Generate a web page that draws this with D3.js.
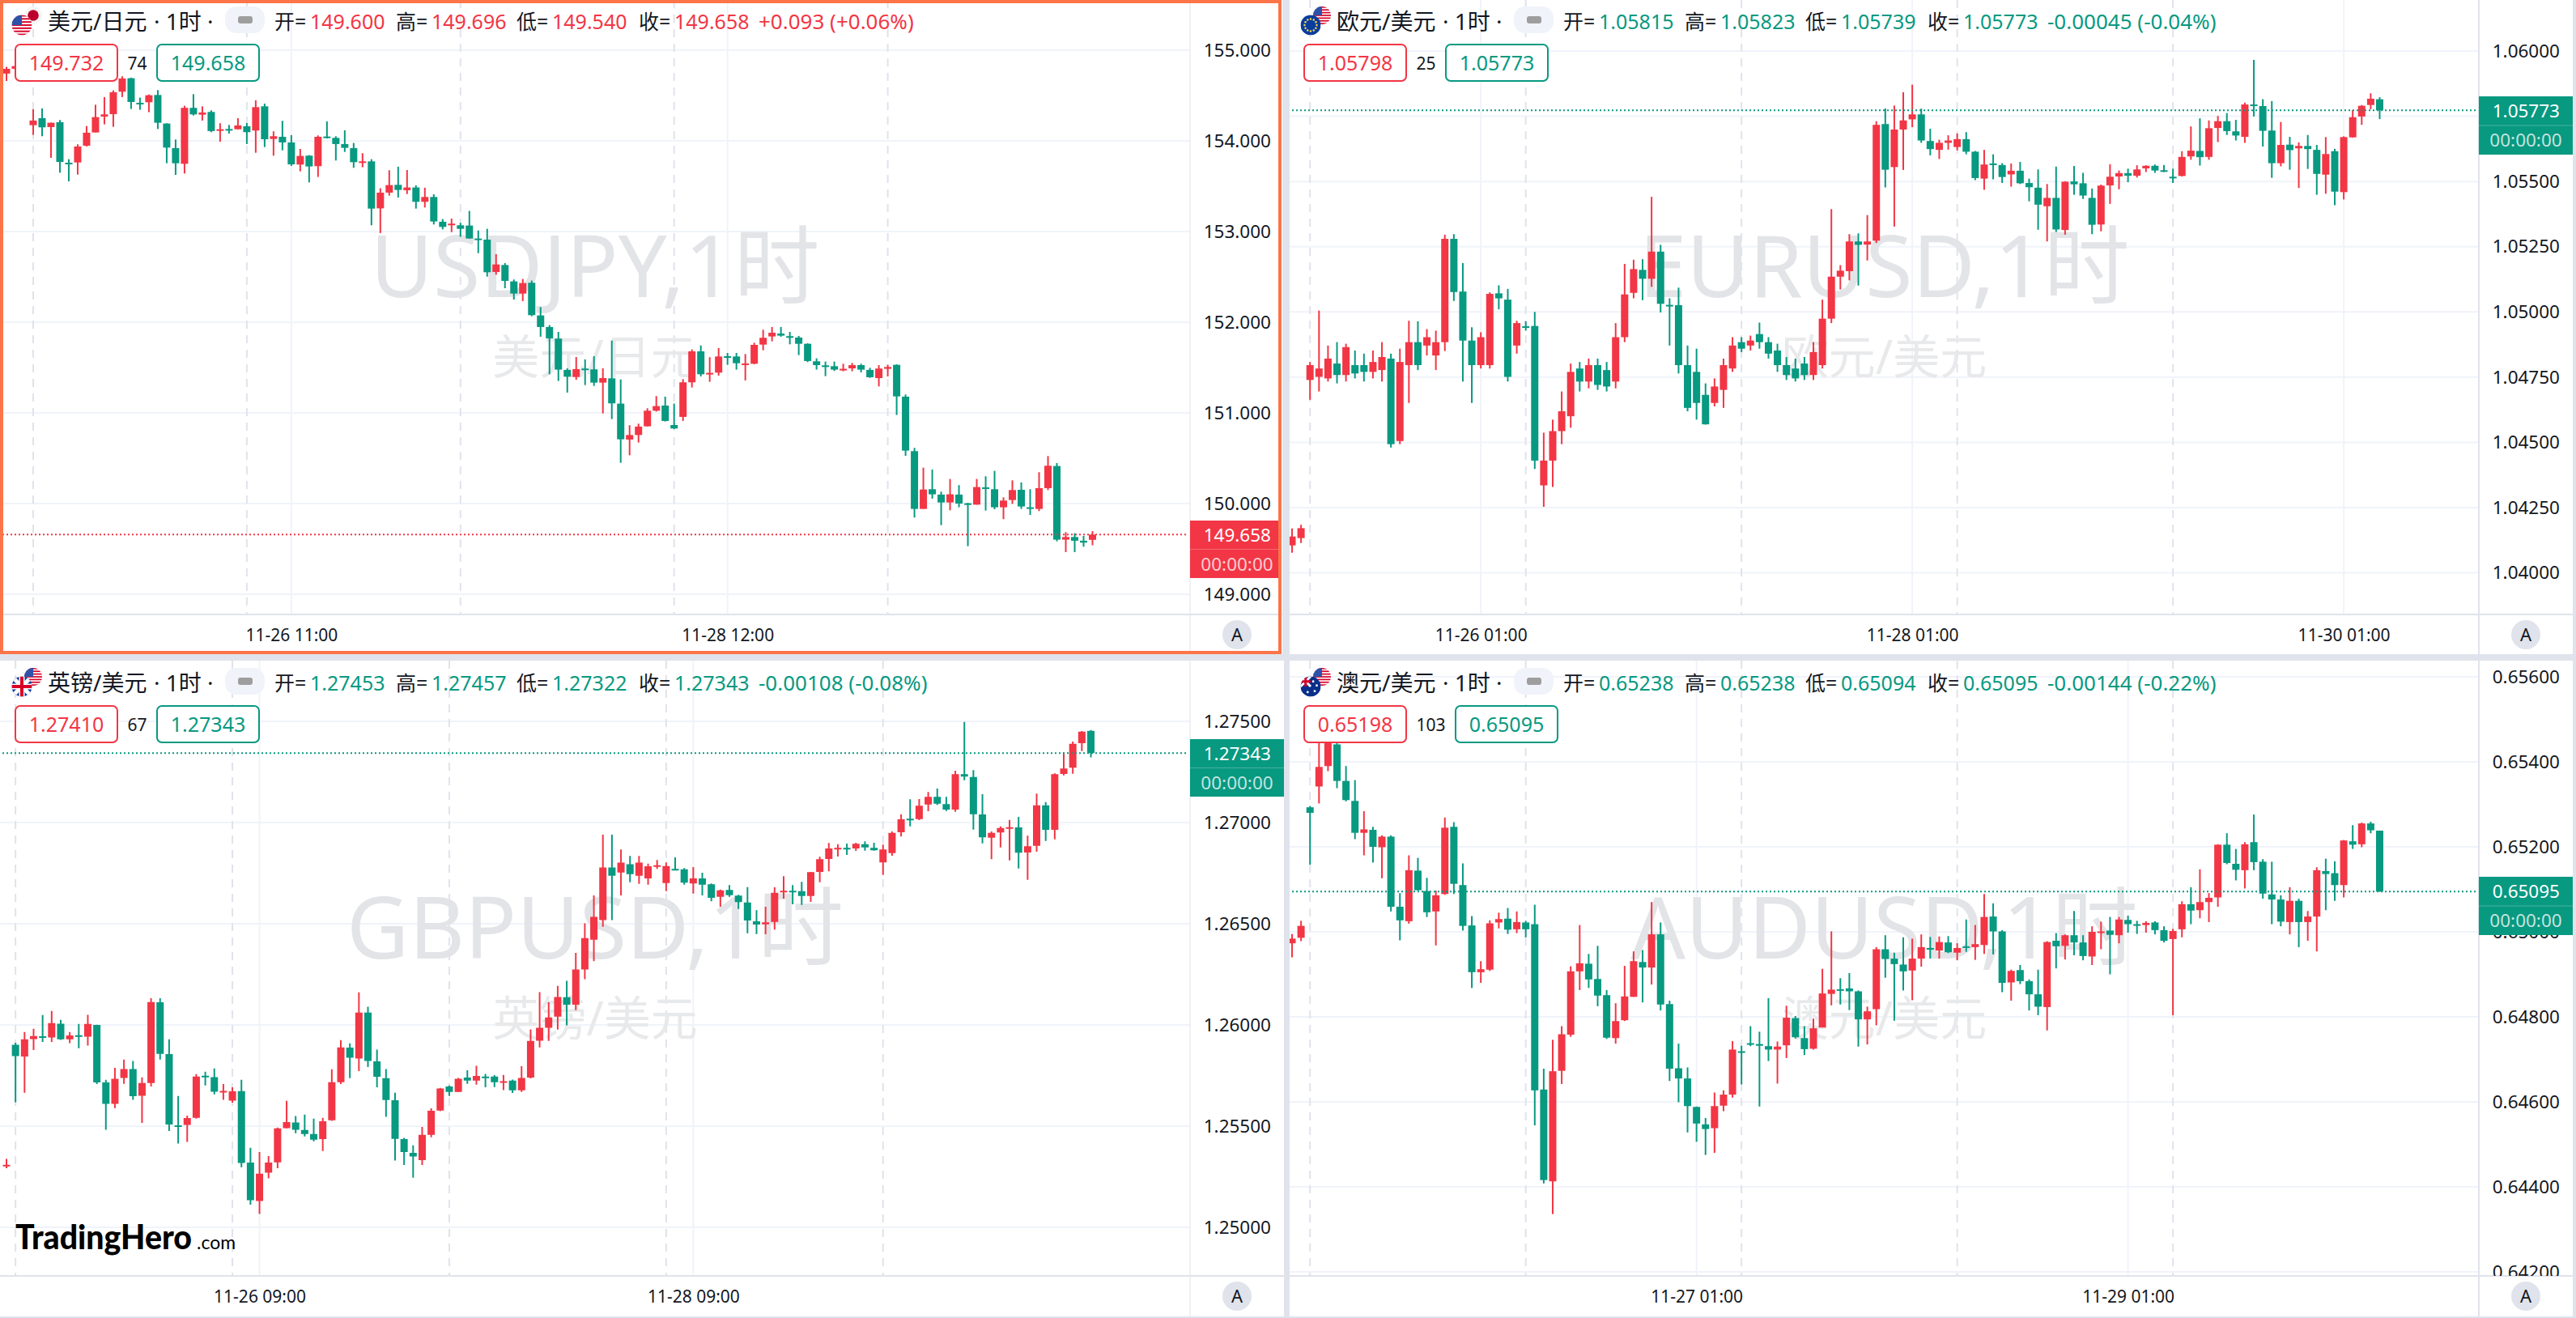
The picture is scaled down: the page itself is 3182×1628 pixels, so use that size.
<!DOCTYPE html>
<html>
<head>
<meta charset="utf-8">
<script src="https://cdn.jsdelivr.net/npm/d3@7"></script>
<style>
  html, body { margin: 0; padding: 0; background: #e0e3eb; overflow: hidden; }
  svg { display: block; }
  text { font-family: "Noto Sans", "Noto Sans CJK SC", sans-serif; }
</style>
</head>
<body>
<script>
// open, high, low, close
const usdjpyBars = [
[154.742,154.816,154.661,154.795],[154.795,154.855,154.774,154.825],[154.81,154.944,154.75,154.914],[154.173,154.349,154.066,154.224],
[154.25,154.358,154.051,154.149],[154.152,154.2,153.813,154.2],[154.206,154.23,153.649,153.768],[153.759,153.798,153.554,153.753],
[153.762,153.962,153.628,153.938],[153.947,154.164,153.938,154.09],[154.093,154.399,154.093,154.262],[154.268,154.483,154.182,154.292],
[154.295,154.557,154.155,154.536],[154.542,154.712,154.483,154.688],[154.691,154.697,154.352,154.429],[154.42,154.477,154.343,154.411],
[154.426,154.512,154.316,154.503],[154.506,154.56,154.131,154.2],[154.191,154.194,153.753,153.926],[153.92,154.015,153.625,153.753],
[153.747,154.387,153.64,154.364],[154.364,154.515,154.28,154.292],[154.289,154.381,154.224,154.313],[154.319,154.337,154.096,154.108],
[154.114,154.194,153.991,154.128],[154.131,154.176,154.081,154.122],[154.128,154.25,154.128,154.17],[154.161,154.197,153.965,154.096],
[154.114,154.447,153.869,154.372],[154.381,154.411,153.932,154.018],[154.021,154.105,153.837,154.051],[154.045,154.221,153.896,153.983],
[153.983,154.063,153.724,153.741],[153.739,153.911,153.664,153.834],[153.837,153.843,153.542,153.718],[153.721,154.06,153.602,154.045],
[154.048,154.215,154.027,154.036],[154.033,154.051,153.783,153.965],[153.965,154.116,153.878,153.923],[153.92,153.977,153.703,153.765],
[153.762,153.864,153.709,153.774],[153.774,153.798,153.069,153.253],[153.256,153.477,152.983,153.429],[153.429,153.676,153.396,153.512],
[153.515,153.715,153.375,153.459],[153.456,153.679,153.414,153.486],[153.486,153.509,153.253,153.328],[153.328,153.483,153.265,153.381],
[153.381,153.411,153.078,153.111],[153.108,153.137,153.024,153.051],[153.069,153.143,152.994,153.087],[153.069,153.096,152.941,153.03],
[153.066,153.227,152.923,152.923],[152.923,153.012,152.762,152.914],[152.911,153.03,152.503,152.551],[152.554,152.75,152.524,152.637],
[152.631,152.652,152.375,152.456],[152.45,152.471,152.25,152.316],[152.316,152.477,152.233,152.432],[152.435,152.459,152.066,152.078],
[152.075,152.167,151.84,151.947],[151.947,151.968,151.426,151.822],[151.819,151.893,151.352,151.477],[151.474,151.491,151.224,151.399],
[151.396,151.616,151.364,151.483],[151.489,151.59,151.307,151.48],[151.48,151.625,151.298,151.334],[151.334,151.491,150.994,151.384],
[151.381,151.798,150.932,151.105],[151.102,151.369,150.45,150.709],[150.706,150.864,150.533,150.756],[150.756,150.881,150.673,150.849],
[150.852,151.051,150.852,151.024],[151.024,151.185,151.015,151.075],[151.081,151.179,150.905,150.911],[150.866,151.102,150.822,150.828],
[150.956,151.372,150.911,151.337],[151.337,151.7,151.28,151.679],[151.679,151.744,151.402,151.426],[151.426,151.614,151.343,151.441],
[151.444,151.715,151.411,151.622],[151.625,151.661,151.53,151.614],[151.622,151.661,151.477,151.548],[151.533,151.649,151.358,151.545],
[151.542,151.774,151.536,151.75],[151.753,151.917,151.691,151.828],[151.843,151.947,151.789,151.884],[151.875,151.947,151.84,151.852],
[151.846,151.893,151.756,151.837],[151.831,151.849,151.637,151.762],[151.762,151.768,151.56,151.572],[151.569,151.602,151.477,151.527],
[151.524,151.566,151.405,151.515],[151.515,151.566,151.462,151.477],[151.474,151.542,151.459,151.486],[151.491,151.551,151.459,151.527],
[151.527,151.542,151.447,151.477],[151.474,151.497,151.387,151.393],[151.384,151.527,151.292,151.489],[151.486,151.53,151.402,151.506],
[151.53,151.536,150.977,151.182],[151.179,151.203,150.527,150.584],[150.578,150.614,149.846,149.941],[149.941,150.396,149.941,150.155],
[150.158,150.375,150.054,150.102],[150.099,150.131,149.762,150.012],[150.012,150.271,149.926,150.102],[150.099,150.203,149.959,150.0],
[150.003,150.009,149.53,149.991],[149.988,150.271,149.988,150.182],[150.179,150.301,149.923,150.17],[150.158,150.361,149.937,149.959],
[149.959,150.069,149.828,150.033],[150.039,150.256,149.997,150.149],[150.152,150.233,149.941,149.968],[149.959,150.158,149.875,149.944],
[149.941,150.346,149.917,150.17],[150.17,150.524,150.149,150.417],[150.414,150.447,149.584,149.602],[149.602,149.685,149.465,149.631],
[149.631,149.673,149.465,149.59],[149.59,149.643,149.524,149.569],[149.6,149.696,149.54,149.658]
];

// the three dollar pairs are kept in points (1/100000)
const eurusdPoints = [
[104105,104170,104077,104139],[104133,104184,104114,104171],[104739,104808,104663,104796],[104751,105005,104695,104783],
[104745,104871,104733,104821],[104802,104884,104726,104758],[104758,104878,104733,104865],[104796,104852,104745,104764],
[104796,104840,104733,104770],[104770,104852,104745,104808],[104777,104884,104733,104827],[104821,104840,104480,104493],
[104505,104859,104493,104808],[104796,104966,104651,104884],[104884,104964,104777,104796],[104871,104934,104833,104903],
[104833,104928,104777,104884],[104884,105296,104850,105280],[105280,105298,105042,105076],[105078,105187,104733,104890],
[104890,104941,104651,104796],[104796,104922,104783,104903],[104796,105075,104783,105069],[105071,105102,105010,105052],
[105047,105088,104733,104751],[104871,104966,104840,104957],[104945,104964,104928,104941],[104946,105000,104398,104430],
[104335,104537,104253,104430],[104430,104587,104329,104543],[104543,104695,104493,104619],[104600,104802,104556,104770],
[104783,104808,104695,104733],[104733,104821,104707,104796],[104796,104821,104701,104720],[104777,104808,104695,104714],
[104733,104957,104707,104903],[104903,105184,104884,105067],[105073,105200,105052,105164],[105161,105202,105045,105127],
[105127,105441,105096,105231],[105231,105257,104998,105031],[105027,105052,104871,105025],[105026,105093,104764,104796],
[104796,104871,104619,104632],[104770,104859,104587,104651],[104682,104726,104568,104569],[104651,104745,104638,104714],
[104701,104821,104632,104796],[104783,104903,104770,104871],[104884,104903,104846,104859],[104871,104909,104852,104890],
[104915,104959,104859,104884],[104884,104903,104821,104840],[104852,104878,104770,104796],[104796,104827,104739,104758],
[104783,104821,104733,104745],[104802,104827,104739,104758],[104758,104884,104739,104846],[104796,105047,104783,104974],
[104974,105394,104957,105135],[105135,105179,105086,105158],[105156,105298,105121,105270],[105270,105301,105101,105257],
[105258,105371,105197,105270],[105273,105731,105264,105717],[105720,105780,105477,105545],[105555,105791,105327,105699],
[105699,105842,105544,105734],[105738,105871,105708,105757],[105757,105779,105648,105657],[105655,105702,105600,105624],
[105621,105660,105586,105648],[105648,105677,105622,105657],[105632,105684,105619,105662],[105662,105689,105604,105614],
[105614,105617,105505,105513],[105511,105621,105468,105565],[105569,105604,105508,105565],[105563,105570,105494,105517],
[105527,105569,105480,105541],[105541,105575,105490,105493],[105494,105511,105424,105478],[105476,105546,105315,105411],
[105405,105490,105270,105437],[105437,105557,105306,105316],[105314,105501,105296,105499],[105500,105559,105449,105489],
[105493,105533,105433,105446],[105437,105473,105298,105334],[105335,105488,105309,105484],[105485,105566,105414,105518],
[105519,105542,105470,105532],[105532,105549,105497,105522],[105522,105562,105515,105546],[105550,105562,105536,105560],
[105560,105565,105533,105542],[105543,105563,105536,105540],[105518,105549,105494,105515],[105521,105616,105519,105594],
[105596,105711,105583,105618],[105617,105742,105561,105593],[105594,105734,105583,105704],[105705,105751,105651,105731],
[105731,105762,105678,105693],[105692,105736,105657,105676],[105671,105802,105648,105795],[105795,105966,105749,105790],
[105789,105815,105634,105694],[105695,105808,105514,105570],[105570,105728,105558,105640],[105641,105671,105545,105620],
[105627,105650,105475,105636],[105636,105678,105548,105624],[105621,105640,105449,105529],[105526,105670,105453,105605],
[105616,105625,105409,105461],[105459,105673,105431,105670],[105669,105774,105668,105746],[105749,105793,105717,105790],
[105793,105838,105777,105817],[105815,105823,105739,105773]
];

const gbpusdPoints = [
[125302,125338,125292,125309],[125902,125912,125618,125846],[125844,125965,125665,125929],[125930,125981,125876,125945],
[125944,126049,125916,125940],[125938,126069,125916,126009],[126006,126025,125926,125929],[125929,125965,125910,125948],
[125949,126005,125885,125944],[125942,126050,125898,126005],[126000,126001,125708,125716],[125716,125729,125482,125610],
[125610,125788,125589,125734],[125738,125829,125709,125782],[125782,125822,125630,125648],[125650,125741,125516,125713],
[125713,126132,125696,126113],[126112,126132,125829,125857],[125856,125929,125476,125508],[125504,125649,125414,125498],
[125506,125552,125422,125540],[125541,125757,125537,125745],[125749,125769,125701,125744],[125742,125785,125657,125670],
[125669,125708,125630,125674],[125626,125692,125616,125672],[125673,125729,125297,125318],[125320,125393,125112,125134],
[125130,125372,125066,125265],[125270,125352,125242,125320],[125321,125493,125292,125489],[125490,125625,125489,125520],
[125518,125550,125465,125482],[125481,125557,125449,125461],[125461,125537,125425,125433],[125436,125541,125377,125524],
[125529,125781,125526,125717],[125717,125925,125708,125889],[125888,125909,125737,125838],[125834,126161,125772,126061],
[126061,126090,125792,125822],[125820,125878,125692,125744],[125737,125782,125546,125629],[125628,125665,125330,125437],
[125436,125442,125308,125372],[125368,125405,125245,125350],[125332,125496,125308,125457],[125457,125588,125445,125576],
[125577,125689,125574,125686],[125696,125701,125649,125669],[125669,125738,125668,125734],[125740,125776,125709,125725],
[125725,125798,125705,125748],[125745,125758,125692,125742],[125745,125752,125693,125717],[125716,125753,125678,125722],
[125725,125730,125664,125677],[125677,125796,125669,125738],[125740,125978,125736,125921],[125922,126162,125889,125986],
[125986,126112,125921,126037],[126041,126193,125977,126138],[126137,126218,125998,126100],[126100,126356,126073,126274],
[126274,126502,126226,126429],[126421,126640,126315,126534],[126518,126940,126485,126778],[126778,126940,126518,126737],
[126753,126867,126640,126802],[126794,126835,126705,126745],[126737,126835,126697,126802],[126724,126797,126693,126784],
[126785,126815,126771,126789],[126701,126803,126661,126785],[126771,126828,126764,126765],[126769,126775,126693,126703],
[126699,126780,126649,126724],[126724,126752,126640,126693],[126695,126699,126611,126628],[126633,126669,126584,126665],
[126667,126691,126633,126641],[126639,126643,126573,126607],[126605,126681,126453,126516],[126512,126567,126449,126496],
[126497,126584,126448,126507],[126509,126680,126471,126653],[126657,126735,126624,126663],[126663,126691,126596,126659],
[126661,126707,126593,126637],[126637,126756,126608,126755],[126756,126831,126705,126819],[126820,126899,126759,126872],
[126869,126893,126832,126875],[126875,126896,126840,126871],[126872,126900,126860,126895],[126893,126907,126861,126877],
[126875,126900,126861,126863],[126803,126891,126741,126867],[126849,126956,126836,126949],[126952,127041,126931,127016],
[127019,127115,126981,127013],[127017,127116,127012,127083],[127089,127151,127056,127127],[127127,127168,127087,127093],
[127091,127127,127057,127064],[127064,127256,127053,127239],[127239,127497,127209,127227],[127225,127259,126965,127041],
[127040,127140,126897,126927],[126925,126956,126819,126949],[126951,126981,126877,126973],[126975,127013,126813,126977],
[126976,127028,126773,126851],[126852,126935,126717,126883],[126885,127143,126856,127085],[127085,127101,126909,126964],
[126964,127243,126917,127239],[127240,127347,127233,127267],[127271,127400,127241,127389],[127392,127452,127353,127449],
[127453,127457,127322,127343]
];

const audusdPoints = [
[64973,64995,64940,64984],[64986,65026,64978,65014],[65293,65296,65158,65280],[65342,65478,65302,65388],
[65390,65478,65378,65466],[65441,65459,65338,65355],[65355,65390,65307,65310],[65308,65357,65218,65233],
[65233,65284,65180,65241],[65240,65247,65163,65200],[65199,65227,65126,65224],[65224,65227,65048,65059],
[65059,65091,64980,65027],[65025,65180,65019,65145],[65144,65174,65097,65098],[65096,65127,65035,65046],
[65048,65097,64968,65086],[65089,65269,65087,65245],[65247,65258,65089,65113],[65110,65161,65003,65014],
[65015,65037,64868,64905],[64905,64931,64880,64912],[64911,65027,64908,65020],[65022,65045,65008,65030],
[65031,65056,64995,65005],[65006,65048,64997,65023],[65022,65026,64987,65006],[65018,65064,64545,64627],
[64629,64678,64408,64416],[64413,64746,64336,64672],[64673,64778,64642,64759],[64758,64919,64753,64907],
[64907,65016,64863,64926],[64925,64948,64868,64888],[64889,64967,64825,64850],[64851,64863,64748,64751],
[64750,64832,64737,64790],[64792,64920,64790,64848],[64847,64954,64847,64931],[64929,64957,64834,64916],
[64916,65070,64876,64994],[64994,65022,64815,64829],[64830,64838,64649,64678],[64679,64737,64599,64655],
[64655,64681,64528,64590],[64588,64589,64506,64549],[64547,64562,64475,64536],[64538,64622,64480,64590],
[64591,64627,64578,64617],[64617,64743,64610,64723],[64719,64732,64641,64717],[64738,64778,64731,64736],
[64736,64765,64589,64732],[64731,64844,64696,64723],[64723,64742,64643,64730],[64733,64826,64703,64798],
[64797,64802,64749,64752],[64750,64778,64710,64724],[64725,64796,64723,64773],[64775,64913,64775,64855],
[64854,65001,64827,64864],[64865,64891,64829,64863],[64867,64903,64816,64860],[64860,64862,64730,64794],
[64794,64824,64735,64813],[64818,64964,64780,64959],[64959,64992,64892,64936],[64937,64951,64791,64924],
[64923,64987,64862,64907],[64909,64984,64839,64937],[64937,64994,64918,64964],[64962,64988,64937,64958],
[64956,64989,64937,64976],[64975,64990,64950,64952],[64951,64973,64933,64962],[64966,65029,64953,64963],
[64964,65016,64934,64971],[64969,65089,64948,65035],[65036,65067,64947,65001],[65001,65004,64858,64880],
[64881,64911,64838,64908],[64910,64922,64877,64884],[64884,64888,64815,64853],[64853,64911,64804,64824],
[64823,64978,64768,64976],[64979,64997,64914,64966],[64967,64994,64935,64992],[64992,65049,64945,64975],
[64975,64992,64933,64943],[64942,65013,64922,65000],[64999,65024,64959,65001],[65003,65035,64900,64993],
[64992,65035,64973,65029],[65028,65038,64998,65018],[65018,65026,64995,65016],[65016,65025,64998,65021],
[65022,65025,64994,65004],[65004,65013,64975,64979],[64983,65007,64804,65002],[65006,65072,64987,65065],
[65065,65105,65018,65050],[65051,65147,65032,65070],[65070,65091,65023,65080],[65081,65206,65059,65205],
[65205,65232,65159,65162],[65160,65195,65121,65146],[65145,65211,65102,65206],[65211,65276,65145,65164],
[65165,65171,65078,65090],[65088,65165,65018,65076],[65076,65086,65013,65024],[65023,65105,64994,65073],
[65073,65078,64964,65023],[65023,65049,64979,65036],[65036,65152,64954,65145],[65143,65172,65051,65136],
[65138,65166,65073,65110],[65110,65216,65081,65215],[65213,65251,65195,65205],[65206,65257,65199,65255],
[65255,65259,65232,65239],[65238,65238,65094,65095]
];

const toPrice = rows => rows.map(r => r.map(v => v / 100000));

const usdjpyTicks = [155, 154, 153, 152, 151, 150, 149];
const eurusdTicks = [1.06, 1.0575, 1.055, 1.0525, 1.05, 1.0475, 1.045, 1.0425, 1.04];
const gbpusdTicks = [1.275, 1.27, 1.265, 1.26, 1.255, 1.25];
const audusdTicks = [0.656, 0.654, 0.652, 0.65, 0.648, 0.646, 0.644, 0.642];

const usdjpyTimes = ["11-26 11:00", "11-28 12:00"];
const eurusdTimes = ["11-26 01:00", "11-28 01:00", "11-30 01:00"];
const gbpusdTimes = ["11-26 09:00", "11-28 09:00"];
const audusdTimes = ["11-27 01:00", "11-29 01:00"];

const usdjpyTimeBars = [32, 81];
const eurusdTimeBars = [21, 69, 117];
const gbpusdTimeBars = [28, 76];
const audusdTimeBars = [45, 93];

// bars under the dashed session lines
const usdjpySessions = [3, 27, 51, 75, 99];
const eurusdSessions = [2, 26, 50, 74, 98];
const gbpusdSessions = [1, 25, 49, 73, 97];
const audusdSessions = [2, 26, 50, 74, 98];

const RED = "#f23645";
const GREEN = "#089981";
const GRID = "#f0f3fa";
const LINE = "#e0e3eb";

const panels = [
  { sym: "USDJPY", name: "美元/日元", flags: ["us", "jp"], bars: usdjpyBars, ticks: usdjpyTicks, digits: 3,
    times: usdjpyTimes, timeBars: usdjpyTimeBars, sessions: usdjpySessions,
    bid: "149.732", spread: "74", ask: "149.658", change: "+0.093 (+0.06%)", color: RED,
    left: 0, top: 0, width: 1584, height: 808, axisX: 1470, tagRight: 1583, timeY: 759,
    xRange: [8, 1349.5], yRange: [62, 734], tag: [643, 714] },
  { sym: "EURUSD", name: "欧元/美元", flags: ["eu", "us"], bars: toPrice(eurusdPoints), ticks: eurusdTicks, digits: 5,
    times: eurusdTimes, timeBars: eurusdTimeBars, sessions: eurusdSessions,
    bid: "1.05798", spread: "25", ask: "1.05773", change: "-0.00045 (-0.04%)", color: GREEN,
    left: 1593, top: 0, width: 1585, height: 808, axisX: 3062, tagRight: 3178, timeY: 759,
    xRange: [1596, 2939.5], yRange: [63, 707.5], tag: [119, 191] },
  { sym: "GBPUSD", name: "英镑/美元", flags: ["gb", "us"], bars: toPrice(gbpusdPoints), ticks: gbpusdTicks, digits: 5,
    times: gbpusdTimes, timeBars: gbpusdTimeBars, sessions: gbpusdSessions,
    bid: "1.27410", spread: "67", ask: "1.27343", change: "-0.00108 (-0.08%)", color: GREEN,
    left: 0, top: 816, width: 1586, height: 810, axisX: 1470, tagRight: 1586, timeY: 1576,
    xRange: [8, 1347.5], yRange: [891, 1516], tag: [913, 984] },
  { sym: "AUDUSD", name: "澳元/美元", flags: ["au", "us"], bars: toPrice(audusdPoints), ticks: audusdTicks, digits: 5,
    times: audusdTimes, timeBars: audusdTimeBars, sessions: audusdSessions,
    bid: "0.65198", spread: "103", ask: "0.65095", change: "-0.00144 (-0.22%)", color: GREEN,
    left: 1593, top: 816, width: 1585, height: 810, axisX: 3062, tagRight: 3178, timeY: 1576,
    xRange: [1596, 2939.5], yRange: [836, 1571], tag: [1083, 1155] }
];

const WIDTH = 3182;
const HEIGHT = 1628;

const svg = d3.select("body").append("svg")
  .attr("width", WIDTH)
  .attr("height", HEIGHT);

const defs = svg.append("defs");

function drawFlag(g, kind, cx, cy, r, id) {
  defs.append("clipPath").attr("id", id)
    .append("circle").attr("cx", cx).attr("cy", cy).attr("r", r);
  const f = g.append("g").attr("clip-path", "url(#" + id + ")");
  const box = (x, y, w, h, c) => f.append("rect").attr("x", x).attr("y", y).attr("width", w).attr("height", h).attr("fill", c);
  if (kind === "us") {
    box(cx - r, cy - r, 2 * r, 2 * r, "#fff");
    d3.range(7).forEach(i => box(cx - r, cy - r + i * 2 * r / 6.5, 2 * r, r / 6.5, "#d80027"));
    box(cx - r, cy - r, r, r, "#2e52a8");
  } else if (kind === "jp") {
    box(cx - r, cy - r, 2 * r, 2 * r, "#f5f5f5");
    f.append("circle").attr("cx", cx).attr("cy", cy).attr("r", r * 0.62).attr("fill", "#bc002d");
  } else if (kind === "eu") {
    box(cx - r, cy - r, 2 * r, 2 * r, "#0a3d9e");
    d3.range(12).forEach(i => {
      const a = i * Math.PI / 6;
      f.append("circle").attr("cx", cx + Math.cos(a) * r * 0.6).attr("cy", cy + Math.sin(a) * r * 0.6)
        .attr("r", 1.2).attr("fill", "#ffda44");
    });
  } else if (kind === "gb") {
    box(cx - r, cy - r, 2 * r, 2 * r, "#0a3d9e");
    f.append("path").attr("d", `M${cx - r},${cy - r}L${cx + r},${cy + r}M${cx + r},${cy - r}L${cx - r},${cy + r}`)
      .attr("stroke", "#fff").attr("stroke-width", 5);
    box(cx - r, cy - 3.5, 2 * r, 7, "#fff");
    box(cx - 3.5, cy - r, 7, 2 * r, "#fff");
    box(cx - r, cy - 2, 2 * r, 4, "#d80027");
    box(cx - 2, cy - r, 4, 2 * r, "#d80027");
  } else if (kind === "au") {
    box(cx - r, cy - r, 2 * r, 2 * r, "#0a2f8a");
    f.append("path").attr("d", `M${cx - r},${cy - r}L${cx},${cy}M${cx},${cy - r}L${cx - r},${cy}`)
      .attr("stroke", "#fff").attr("stroke-width", 3);
    box(cx - r, cy - r / 2 - 1.5, r, 3, "#d80027");
    box(cx - r / 2 - 1.5, cy - r, 3, r, "#d80027");
    [[0.4, 0.45], [0.6, -0.1], [0.25, -0.5], [-0.3, 0.55]].forEach(p => {
      f.append("circle").attr("cx", cx + p[0] * r).attr("cy", cy + p[1] * r).attr("r", 1.4).attr("fill", "#fff");
    });
  }
}

panels.forEach((p, n) => {
  const fmt = d3.format("." + p.digits + "f");
  const dx = p.left === 0 ? 0 : 1592;
  const dy = p.top === 0 ? 0 : 817;
  const last = p.bars[p.bars.length - 1];

  const x = d3.scaleLinear().domain([0, p.bars.length - 1]).range(p.xRange);
  const y = d3.scaleLinear().domain([p.ticks[0], p.ticks[p.ticks.length - 1]]).range(p.yRange);

  const g = svg.append("g");
  g.append("rect").attr("x", p.left).attr("y", p.top).attr("width", p.width).attr("height", p.height).attr("fill", "#fff");

  const plotId = "plot" + n;
  defs.append("clipPath").attr("id", plotId).append("rect")
    .attr("x", p.left).attr("y", p.top)
    .attr("width", p.axisX - p.left).attr("height", p.timeY - p.top);
  const axisId = "axisclip" + n;
  defs.append("clipPath").attr("id", axisId).append("rect")
    .attr("x", p.axisX).attr("y", p.top)
    .attr("width", p.left + p.width - p.axisX).attr("height", p.timeY - p.top);

  const plot = g.append("g").attr("clip-path", "url(#" + plotId + ")");

  // grid
  plot.selectAll(".hgrid").data(p.ticks).enter().append("line")
    .attr("x1", p.left).attr("x2", p.axisX)
    .attr("y1", d => y(d)).attr("y2", d => y(d))
    .attr("stroke", GRID).attr("stroke-width", 2);
  plot.selectAll(".vgrid").data(p.timeBars).enter().append("line")
    .attr("x1", d => x(d)).attr("x2", d => x(d))
    .attr("y1", p.top).attr("y2", p.timeY)
    .attr("stroke", GRID).attr("stroke-width", 2);
  plot.selectAll(".session").data(p.sessions).enter().append("line")
    .attr("x1", d => x(d)).attr("x2", d => x(d))
    .attr("y1", p.top).attr("y2", p.timeY)
    .attr("stroke", LINE).attr("stroke-width", 2)
    .attr("stroke-dasharray", "10,8");

  // watermark
  plot.append("text")
    .attr("x", (p.left + p.axisX) / 2).attr("y", 367 + dy)
    .attr("text-anchor", "middle").attr("font-size", 106).attr("fill", "#e3e4e7")
    .text(p.sym + ",1时");
  plot.append("text")
    .attr("x", (p.left + p.axisX) / 2).attr("y", 462 + dy)
    .attr("text-anchor", "middle").attr("font-size", 58).attr("fill", "#e8e9eb")
    .text(p.name);

  // candles
  const candle = plot.selectAll(".candle").data(p.bars).enter().append("g");
  const colorOf = d => d[3] >= d[0] ? RED : GREEN;
  candle.append("line")
    .attr("x1", (d, i) => x(i)).attr("x2", (d, i) => x(i))
    .attr("y1", d => y(d[1])).attr("y2", d => y(d[2]))
    .attr("stroke", colorOf).attr("stroke-width", 2);
  candle.append("rect")
    .attr("x", (d, i) => x(i) - 4.5).attr("width", 9)
    .attr("y", d => y(Math.max(d[0], d[3])))
    .attr("height", d => Math.max(2, Math.abs(y(d[0]) - y(d[3]))))
    .attr("fill", colorOf);

  // last price line
  plot.append("line")
    .attr("x1", p.left + 3).attr("x2", p.axisX - 3)
    .attr("y1", y(last[3])).attr("y2", y(last[3]))
    .attr("stroke", p.color).attr("stroke-width", 2)
    .attr("stroke-dasharray", "2,3");

  // axes
  g.append("line").attr("x1", p.axisX).attr("x2", p.axisX)
    .attr("y1", p.top).attr("y2", p.top + p.height)
    .attr("stroke", LINE).attr("stroke-width", p.left === 0 ? 1 : 2);
  g.append("line").attr("x1", p.left).attr("x2", p.left + p.width)
    .attr("y1", p.timeY).attr("y2", p.timeY)
    .attr("stroke", LINE).attr("stroke-width", 2);

  const priceAxis = g.append("g")
    .attr("clip-path", "url(#" + axisId + ")")
    .append("g")
    .attr("transform", "translate(" + (p.axisX + 100) + ",0)")
    .call(d3.axisRight(y).tickValues(p.ticks).tickFormat(fmt).tickSize(0).tickPadding(0));
  priceAxis.select(".domain").remove();
  priceAxis.selectAll("text")
    .attr("text-anchor", "end").attr("font-size", 22.5).attr("fill", "#131722")
    .style("font-family", '"Noto Sans", sans-serif');

  const timeAxis = g.append("g")
    .attr("transform", "translate(0," + p.timeY + ")")
    .call(d3.axisBottom(x).tickValues(p.timeBars).tickFormat((d, i) => p.times[i]).tickSize(0).tickPadding(18));
  timeAxis.select(".domain").remove();
  timeAxis.selectAll("text")
    .attr("font-size", 21).attr("fill", "#131722")
    .style("font-family", '"Noto Sans", sans-serif');

  // price tag
  const tagW = p.tagRight - p.axisX;
  const tagMid = (p.tag[0] + p.tag[1]) / 2;
  g.append("rect").attr("x", p.axisX).attr("y", p.tag[0]).attr("width", tagW).attr("height", p.tag[1] - p.tag[0]).attr("fill", p.color);
  g.append("line").attr("x1", p.axisX).attr("x2", p.tagRight).attr("y1", tagMid).attr("y2", tagMid)
    .attr("stroke", "#fff").attr("stroke-opacity", 0.25);
  g.append("text").attr("x", p.axisX + 100).attr("y", tagMid - 10).attr("text-anchor", "end")
    .attr("font-size", 22.5).attr("fill", "#fff").text(fmt(last[3]));
  g.append("text").attr("x", p.axisX + 58).attr("y", tagMid + 26).attr("text-anchor", "middle")
    .attr("font-size", 22.5).attr("fill", "#fff").attr("fill-opacity", 0.75).text("00:00:00");

  // A button
  g.append("circle").attr("cx", p.axisX + 58).attr("cy", p.timeY + 25).attr("r", 18).attr("fill", LINE);
  g.append("text").attr("x", p.axisX + 58).attr("y", p.timeY + 33).attr("text-anchor", "middle")
    .attr("font-size", 22).attr("fill", "#131722").text("A");

  // header
  const head = g.append("g").attr("transform", "translate(" + dx + "," + dy + ")");
  drawFlag(head, p.flags[1], 41, 19, 11, "flagb" + n);
  drawFlag(head, p.flags[0], 27, 31, 12.5, "flagf" + n);
  head.append("text").attr("x", 59).attr("y", 37).attr("font-size", 28).attr("fill", "#131722")
    .text(p.name);
  head.append("text").attr("x", 190).attr("y", 37).attr("font-size", 28).attr("fill", "#131722")
    .text("· 1时 ·");
  head.append("rect").attr("x", 278).attr("y", 8).attr("width", 49).attr("height", 33).attr("rx", 14).attr("fill", GRID);
  head.append("rect").attr("x", 294).attr("y", 20).attr("width", 18).attr("height", 9).attr("rx", 3).attr("fill", "#9e9e9e");

  ["开=", "高=", "低=", "收="].forEach((lab, i) => {
    const lx = [339, 489, 638, 789][i];
    head.append("text").attr("x", lx).attr("y", 36).attr("font-size", 25).attr("fill", "#131722").text(lab);
    head.append("text").attr("x", lx + 44).attr("y", 36).attr("font-size", 25).attr("fill", p.color).text(fmt(last[i]));
  });
  head.append("text").attr("x", 937).attr("y", 36).attr("font-size", 26).attr("fill", p.color).text(p.change);

  // bid / ask boxes
  const boxW = 126;
  const askX = p.spread.length > 2 ? 206 : 194;
  const boxes = [[19, p.bid, RED], [askX, p.ask, GREEN]];
  boxes.forEach(b => {
    head.append("rect").attr("x", b[0]).attr("y", 55).attr("width", boxW).attr("height", 45).attr("rx", 6)
      .attr("fill", "#fff").attr("stroke", b[2]).attr("stroke-width", 2);
    head.append("text").attr("x", b[0] + boxW / 2).attr("y", 87).attr("text-anchor", "middle")
      .attr("font-size", 25).attr("fill", b[2]).text(b[1]);
  });
  head.append("text").attr("x", (145 + askX) / 2).attr("y", 86).attr("text-anchor", "middle")
    .attr("font-size", 21).attr("fill", "#131722").text(p.spread);
});

// selected chart outline
svg.append("rect").attr("x", 2).attr("y", 2).attr("width", 1579).attr("height", 804)
  .attr("fill", "none").attr("stroke", "#fb7548").attr("stroke-width", 4);

// logo
svg.append("text").attr("x", 19).attr("y", 1543)
  .attr("font-size", 42).attr("font-weight", 900).attr("fill", "#000")
  .attr("textLength", 218).attr("lengthAdjust", "spacingAndGlyphs")
  .style("font-family", "Lato, sans-serif").text("TradingHero");
svg.append("text").attr("x", 243).attr("y", 1543)
  .attr("font-size", 24).attr("fill", "#000")
  .attr("textLength", 48).attr("lengthAdjust", "spacingAndGlyphs")
  .style("font-family", "Lato, sans-serif").text(".com");
</script>
</body>
</html>
